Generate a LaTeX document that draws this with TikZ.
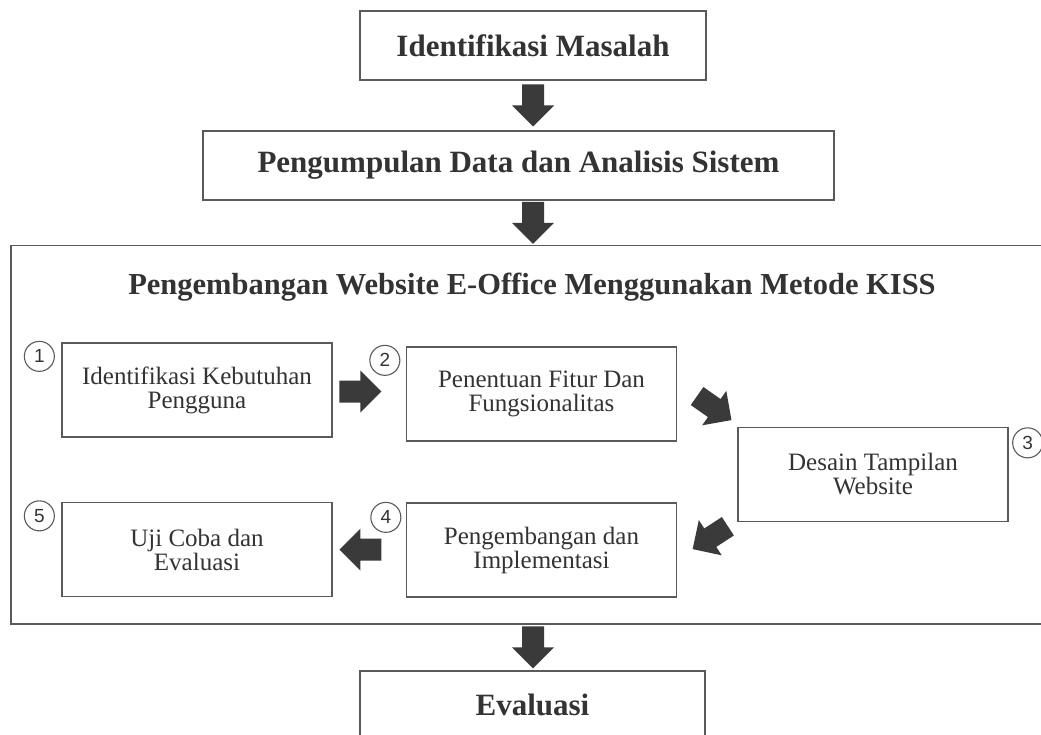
\documentclass[tikz,border=0pt]{standalone}
\usepackage{fontspec}
\setmainfont{Liberation Serif}
\newfontfamily\numfont{Liberation Sans}
\usetikzlibrary{calc}
\definecolor{boxline}{HTML}{5A5A5A}
\definecolor{txt}{HTML}{333333}
\definecolor{arr}{HTML}{3A3A3A}
\tikzset{
  bigbox/.style={draw=boxline, line width=1.5pt, fill=white, text=txt,
    font=\fontsize{31}{34}\selectfont\bfseries, inner sep=0pt},
  stepbox/.style={draw=boxline, line width=1.3pt, text=txt,
    font=\fontsize{25}{24}\selectfont, align=center,
    minimum width=270pt, minimum height=94pt, inner sep=0pt},
  numc/.style={circle, draw=boxline, line width=1.1pt, minimum size=30pt,
    inner sep=0pt, font=\numfont\fontsize{19}{19}\selectfont, text=txt},
  blk/.pic={\fill[arr] (-21,-11) -- (0,-11) -- (0,-21) -- (21,0) -- (0,21) -- (0,11) -- (-21,11) -- cycle;}
}
\begin{document}
\begin{tikzpicture}[x=1pt,y=-1pt]
\useasboundingbox (0,0) rectangle (1041,735);
\clip (0,0) rectangle (1041,735);
\fill[white] (0,0) rectangle (1041,735);

% main flow
\node[bigbox, minimum width=346pt, minimum height=69pt] (top) at (533,45.5) {Identifikasi Masalah};
\node[bigbox, minimum width=631pt, minimum height=69pt] (data) at (518.5,165.5) {Pengumpulan Data dan Analisis Sistem};
\node[draw=boxline, line width=1.5pt, minimum width=1050pt, minimum height=378pt, inner sep=0pt, anchor=north west] (cont) at (10,245) {};
\node[text=txt, font=\fontsize{30.5}{34}\selectfont\bfseries] (title) at (532,287) {Pengembangan Website E-Office Menggunakan Metode KISS};
\node[bigbox, minimum width=345pt, minimum height=68pt] (eval) at (532.5,705) {Evaluasi};

% steps
\node[stepbox] (s1) at (197,390) {Identifikasi Kebutuhan\\Pengguna};
\node[stepbox] (s2) at (541.5,394) {Penentuan Fitur Dan\\Fungsionalitas};
\node[stepbox] (s3) at (873,474.5) {Desain Tampilan\\Website};
\node[stepbox] (s4) at (541.5,550) {Pengembangan dan\\Implementasi};
\node[stepbox] (s5) at (197,549.5) {Uji Coba dan\\Evaluasi};

% numbers
\node[numc] (c1) at ($(s1.north west)+(-22,14)$) {1};
\node[numc] (c2) at ($(s2.north west)+(-21,14)$) {2};
\node[numc] (c3) at ($(s3.north east)+(19,16)$) {3};
\node[numc] (c4) at ($(s4.north west)+(-20,15)$) {4};
\node[numc] (c5) at ($(s5.north west)+(-22,14)$) {5};

% block arrows
\path ($(top.south)!0.5!(top.south|-data.north)$) pic[rotate=-90]{blk};
\path ($(top.south|-data.south)!0.5!(top.south|-cont.north)$) pic[rotate=-90]{blk};
\path ($(top.south|-cont.south)!0.5!(top.south|-eval.north)$) pic[rotate=-90]{blk};
\path ($(s1.east)!0.38!(s2.west)$) pic{blk};
\path ($(s4.west)!0.62!(s5.east)$) pic[rotate=180]{blk};
\path ($(s2.east)!0.55!(s3.north west)+(4,-4)$) pic[rotate=-35]{blk};
\path ($(s3.south west)!0.45!(s4.east)+(0,3)$) pic[rotate=-147]{blk};
\end{tikzpicture}
\end{document}
